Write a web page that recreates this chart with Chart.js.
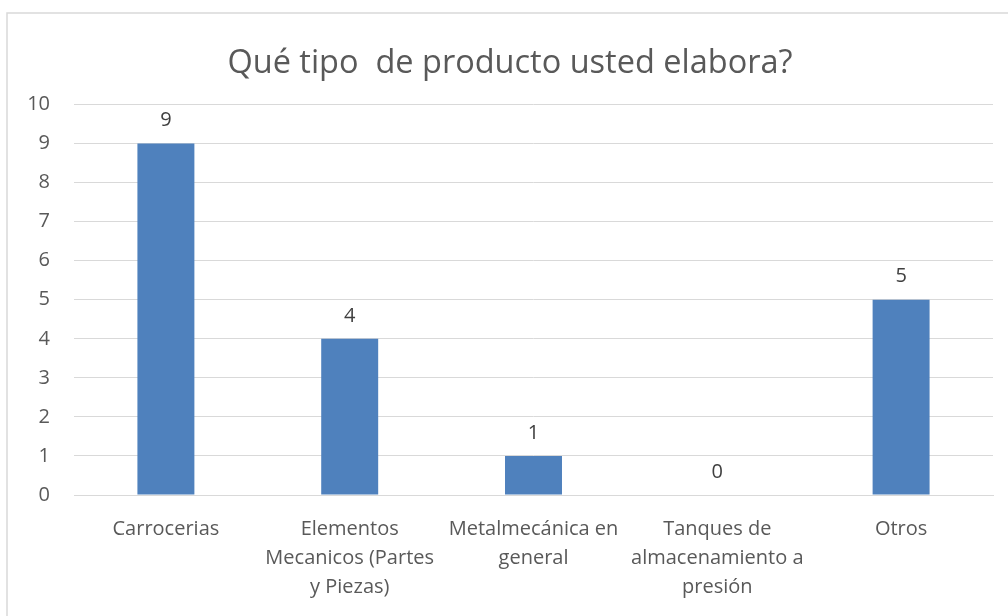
<!DOCTYPE html>
<html>
<head>
<meta charset="utf-8">
<script src="https://cdn.jsdelivr.net/npm/chart.js@4"></script>
<style>
  html, body { margin: 0; padding: 0; background: #fff; }
  #wrap { width: 1008px; height: 616px; }
</style>
</head>
<body>
<div id="wrap"><canvas class="js-chart" width="1008" height="616"></canvas></div>
<script>
const ctx = document.querySelector('.js-chart').getContext('2d');

const TITLE = 'Qué tipo  de producto usted elabora?';
const categories = [
    'Carrocerias',
    ['Elementos', 'Mecanicos (Partes', 'y Piezas)'],
    ['Metalmecánica en', 'general'],
    ['Tanques de', 'almacenamiento a', 'presión'],
    'Otros'
];
const counts = [9, 4, 1, 0, 5];
const yTicks = [0, 1, 2, 3, 4, 5, 6, 7, 8, 9, 10];

const TEXT_COLOR = '#595959';
const BAR_COLOR = '#4F81BD';
const GRID_COLOR = '#D9D9D9';

Chart.defaults.font.family = "'Open Sans', sans-serif";
Chart.defaults.color = TEXT_COLOR;

// white background + thin gray frame like the office chart
const frame = {
    id: 'frame',
    beforeDraw(chart) {
        const c = chart.ctx;
        c.save();
        c.fillStyle = '#fff';
        c.fillRect(0, 0, chart.width, chart.height);
        c.strokeStyle = GRID_COLOR;
        c.lineWidth = 1.5;
        c.strokeRect(7, 13, chart.width + 10, chart.height + 10);
        c.restore();
    }
};

// values written above each bar
const valueLabels = {
    id: 'valueLabels',
    afterDatasetsDraw(chart) {
        const c = chart.ctx;
        const meta = chart.getDatasetMeta(0);
        c.save();
        c.font = "20px 'Open Sans'";
        c.fillStyle = '#404040';
        c.textAlign = 'center';
        c.textBaseline = 'middle';
        meta.data.forEach((bar, i) => {
            c.fillText(String(counts[i]), bar.x, bar.y - 23);
        });
        c.restore();
    }
};

new Chart(ctx, {
    type: 'bar',
    data: {
        labels: categories,
        datasets: [{
            data: counts,
            backgroundColor: BAR_COLOR,
            categoryPercentage: 1,
            barPercentage: 0.31,
        }]
    },
    options: {
        responsive: false,
        animation: false,
        // left padding a bit wider so the title sits right of centre, as in the original
        layout: { padding: { left: 27, right: 15, top: 20, bottom: 0 } },
        plugins: {
            legend: { display: false },
            tooltip: { enabled: false },
            title: {
                display: true,
                text: TITLE,
                color: TEXT_COLOR,
                font: { size: 32.5, weight: 'normal', lineHeight: 1.2 },
                padding: { top: 24.5, bottom: 21 }
            }
        },
        scales: {
            x: {
                grid: { display: false },
                border: { color: GRID_COLOR, width: 1 },
                ticks: {
                    autoSkip: false,
                    maxRotation: 0,
                    minRotation: 0,
                    padding: 12,
                    color: TEXT_COLOR,
                    font: { size: 20, lineHeight: 1.45 }
                },
                afterFit(scale) { scale.height = 121; }
            },
            y: {
                min: 0,
                max: 10,
                afterBuildTicks(scale) { scale.ticks = yTicks.map(v => ({ value: v })); },
                grid: { color: GRID_COLOR, lineWidth: 1, drawTicks: false },
                border: { display: false },
                ticks: {
                    padding: 24,
                    color: TEXT_COLOR,
                    font: { size: 20 }
                },
                afterFit(scale) { scale.width = 47; }
            }
        }
    },
    plugins: [frame, valueLabels]
});
</script>
</body>
</html>
